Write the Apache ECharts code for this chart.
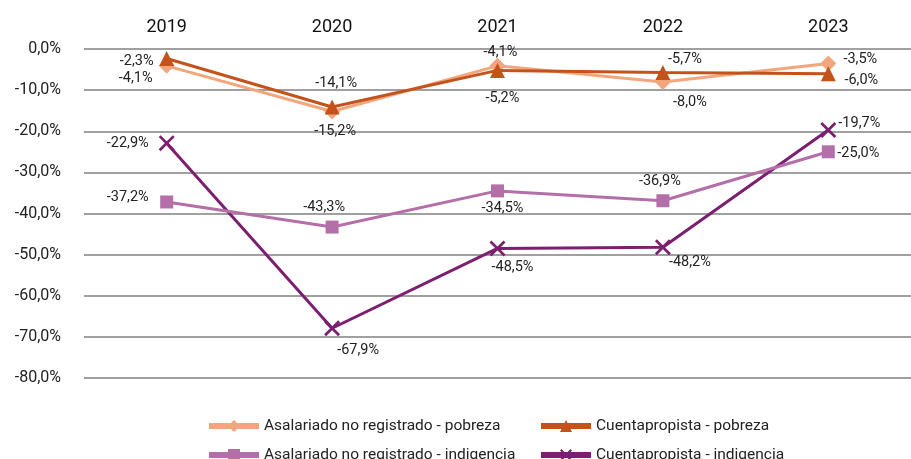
<!DOCTYPE html>
<html><head><meta charset="utf-8">
<script src="https://cdn.jsdelivr.net/npm/echarts@6/dist/echarts.min.js"></script>
<style>html,body{margin:0;padding:0;background:#fff}#c{width:911px;height:459px}</style>
</head><body><div id="c"></div>
<script>
const categories = ['2019','2020','2021','2022','2023'];
const asalPobreza = [-4.1, -15.2, -4.1, -8.0, -3.5];
const cuentaPobreza = [-2.3, -14.1, -5.2, -5.7, -6.0];
const asalIndigencia = [-37.2, -43.3, -34.5, -36.9, -25.0];
const cuentaIndigencia = [-22.9, -67.9, -48.5, -48.2, -19.7];
const seriesNames = ['Asalariado no registrado - pobreza','Cuentapropista - pobreza','Asalariado no registrado - indigencia','Cuentapropista - indigencia'];

// label offsets (style only)
const offA = [[-31,13],[3,20],[3,-13],[27,20],[32,-4]];
const offB = [[-30,3],[4,-24],[5,28],[22,-13],[33,7]];
const offC = [[-39,-5],[-8,-20],[5,17],[-3,-19],[30,2]];
const offD = [[-39,0],[26,22],[15,19],[27,15],[31,-7]];

const fmt = v => v.toFixed(1).replace('.', ',') + '%';
const FONT = 'Roboto';
const crossPath = 'path://M0,1.2 L1.2,0 L10,8.8 L8.8,10 Z M8.8,0 L10,1.2 L1.2,10 L0,8.8 Z';

function mk(name, vals, offs, color, symbol, size, z) {
  return {
    name, type: 'line', data: vals.map((v, i) => ({
      value: v,
      label: { offset: offs[i] }
    })),
    z,
    symbol, symbolSize: size,
    lineStyle: { color, width: 3 },
    itemStyle: { color },
    label: {
      show: true, position: 'inside', fontFamily: FONT, fontSize: 14.5, color: '#222',
      formatter: p => fmt(p.value)
    },
    emphasis: { disabled: true },
    animation: false
  };
}

function lg(name, left, top) {
  return {
    data: [name], orient: 'horizontal', left, top, itemWidth: 50, itemHeight: 15, itemGap: 0,
    lineStyle: { width: 6 },
    textStyle: { fontFamily: FONT, fontSize: 15.5, color: '#222' }, selectedMode: false
  };
}

const chart = echarts.init(document.getElementById('c'), null, { renderer: 'canvas' });
chart.setOption({
  animation: false,
  grid: { left: 84, width: 846, top: 49, bottom: 81, containLabel: false },
  xAxis: {
    type: 'category', data: categories, position: 'top',
    axisLine: { show: false }, axisTick: { show: false },
    axisLabel: { fontFamily: FONT, fontSize: 18, color: '#111', margin: 13 }
  },
  yAxis: {
    type: 'value', min: -80, max: 0, interval: 10,
    axisLine: { show: false }, axisTick: { show: false },
    axisLabel: { fontFamily: FONT, fontSize: 16, color: '#222', margin: 23, formatter: v => fmt(v) },
    splitLine: { lineStyle: { color: '#808080', width: 1.5 } }
  },
  legend: [
    lg(seriesNames[0], 201, 413),
    lg(seriesNames[1], 533, 413),
    lg(seriesNames[2], 201, 442),
    lg(seriesNames[3], 533, 442)
  ],
  series: [
    mk(seriesNames[0], asalPobreza, offA, '#F2A67E', 'diamond', 16, 3),
    mk(seriesNames[1], cuentaPobreza, offB, '#C4531B', 'triangle', 15, 4),
    mk(seriesNames[2], asalIndigencia, offC, '#B46FA9', 'rect', 13, 2),
    mk(seriesNames[3], cuentaIndigencia, offD, '#7C1F70', crossPath, 16, 1)
  ]
});
</script></body></html>
